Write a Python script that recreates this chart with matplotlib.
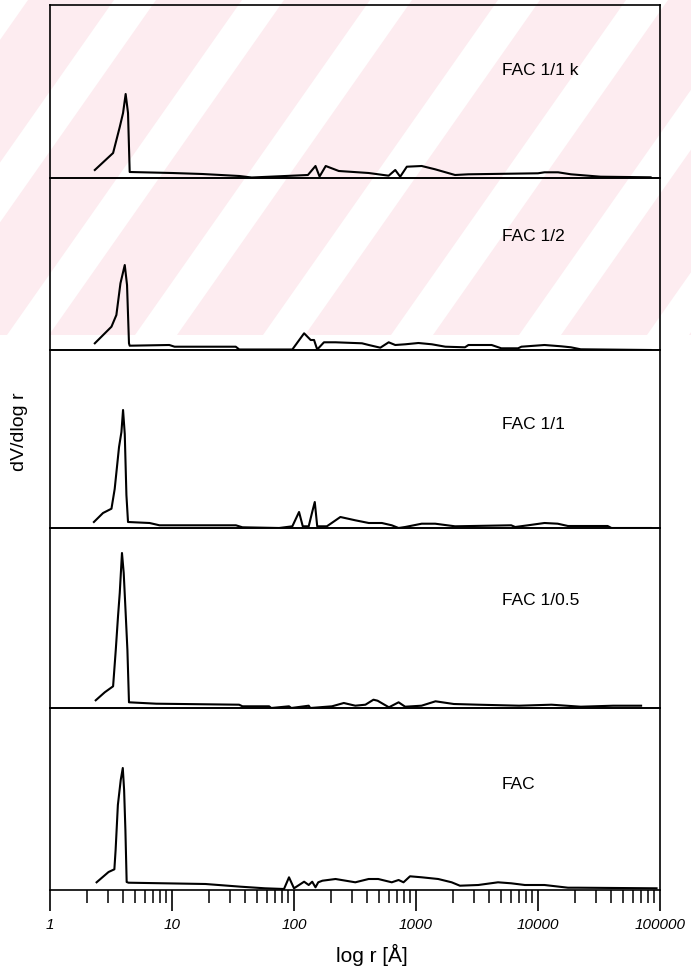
# pore size distribution panels (dV/dlog r vs r), five samples stacked
import matplotlib
matplotlib.use('Agg')
import matplotlib.pyplot as plt
from matplotlib.ticker import FixedLocator, LogLocator, NullFormatter
from matplotlib.patches import Polygon, Rectangle

plt.rcParams['font.family'] = ['Liberation Sans', 'DejaVu Sans']

# sample names, top to bottom
labels = ['FAC 1/1 k', 'FAC 1/2', 'FAC 1/1', 'FAC 1/0.5', 'FAC']

# r [A] and dV/dlog r (arbitrary units)
r_11k = [2.33, 3.29, 3.73, 3.97, 4.17, 4.36, 4.50, 10, 17.7, 35.6, 45, 130, 150, 162, 182,
         233, 409, 597, 676, 742, 841, 1114, 1435, 2090, 2690, 10000, 11300, 14600, 18600,
         32600, 83700]
v_11k = [8, 25, 51, 65, 84, 65, 6, 5, 4, 2, 0.5, 3, 12, 1.5, 12,
         7, 5, 2.3, 8, 1.3, 11.3, 12, 8.7, 3, 3.7, 4.7, 5.7, 5.7, 3.7,
         1.3, 0.7]

r_12 = [2.33, 3.19, 3.50, 3.78, 4.10, 4.28, 4.44, 4.50, 9.5, 10.5, 33.3, 35.6, 96.9, 121,
        137, 146, 155, 176, 219, 361, 410, 510, 597, 676, 815, 1047, 1350, 1740, 2520, 2690,
        4170, 5000, 6870, 7310, 11300, 15500, 18600, 22400, 83700]
v_12 = [6.7, 23.3, 35, 66.7, 85, 65, 6.7, 4.3, 5, 3.3, 3.3, 0.5, 0.5, 16.7,
        10, 10, 0.5, 7.7, 7.7, 6.7, 5, 2.3, 7.7, 5, 5.7, 7, 5.7, 3.3, 2.7, 5,
        5, 1.7, 1.7, 3.3, 5, 3.7, 2.7, 0.7, 0]

r_11 = [2.29, 2.72, 3.19, 3.39, 3.68, 3.85, 3.97, 4.10, 4.23, 4.36, 6.55, 7.9, 33.4, 37.8,
        75.5, 96.9, 110, 118, 132, 141, 148, 155, 186, 240, 318, 410, 525, 633, 720, 815,
        1114, 1435, 2090, 6030, 6500, 8270, 11300, 14500, 17600, 37200, 40000, 83700]
v_11 = [6, 15, 19.3, 39, 81, 96, 118, 94, 33, 6, 5, 2.7, 2.7, 0.7,
        0, 1.7, 16, 1.7, 1.7, 16, 26, 1.7, 1.7, 11, 7.7, 5, 5, 2.7, 0, 1,
        4.3, 4.3, 1.7, 2.7, 1, 2.7, 5, 4.3, 2, 2, 0, 0]

r_105 = [2.37, 2.81, 3.29, 3.46, 3.61, 3.73, 3.89, 4.02, 4.17, 4.31, 4.44, 7.43, 35.5, 37.8,
         62.5, 65, 91, 95, 132, 136, 205, 256, 318, 385, 448, 484, 600, 720, 815, 1110,
         1445, 2040, 3240, 7000, 12900, 22400, 41400, 70000]
v_105 = [7.7, 15.7, 21.7, 58, 91.7, 115, 155, 135, 95, 58, 5.7, 4.3, 3.3, 1.7,
         1.7, 0, 1.7, 0, 2.3, 0, 1.7, 5, 2.3, 3.3, 8.3, 7.3, 0.7, 5.7, 1.3, 2.3,
         6.7, 4, 3.3, 2.3, 3.3, 1.3, 2.3, 2.3]

r_fac = [2.41, 3.02, 3.37, 3.45, 3.6, 3.8, 3.95, 4.05, 4.15, 4.25, 4.4, 18.8, 36.6, 57.8,
         82.8, 91, 100, 121, 132, 141, 150, 158, 171, 219, 318, 409, 490, 633, 720, 790,
         893, 1114, 1520, 1960, 2290, 3240, 4700, 6030, 7800, 11300, 17600, 21100, 93700]
v_fac = [7.7, 18, 20.7, 40, 85, 110, 122, 100, 60, 8, 7.3, 6, 3.3, 1.7,
         1, 12.7, 1.7, 8.3, 5, 8.3, 2.7, 7.7, 9.3, 11, 7.7, 11, 11, 7.7, 10, 7.7,
         13.7, 12.7, 11, 7.7, 4.3, 5, 7.7, 6.7, 5, 5, 2.3, 2.3, 1.7]

xs = [r_11k, r_12, r_11, r_105, r_fac]
ys = [v_11k, v_12, v_11, v_105, v_fac]
ytop = [173, 172, 178, 180, 182]          # y range of each panel
label_y = [0.624, 0.657, 0.579, 0.60, 0.577]

major = [1, 10, 100, 1000, 10000, 100000]
major_lab = ['1', '10', '100', '1000', '10000', '100000']

W, H = 691, 973
fig = plt.figure(figsize=(W / 100, H / 100), dpi=100)

# faint pink watermark behind the top of the page
pink = '#fdecf0'
fig.patches.append(Rectangle((0, 1 - 335 / H), 1, 335 / H, transform=fig.transFigure,
                             facecolor=pink, edgecolor='none', zorder=-2))
for k in range(-3, 5):
    x0 = 135 + 128 * k
    pts = [(x0, 335), (x0 + 42, 335), (x0 + 277, 0), (x0 + 235, 0)]
    fig.patches.append(Polygon([(px / W, 1 - py / H) for px, py in pts],
                               transform=fig.transFigure, facecolor='white',
                               edgecolor='none', zorder=-1))

gs = fig.add_gridspec(5, 1, left=50 / W, right=660 / W, top=1 - 5 / H, bottom=1 - 890 / H,
                      hspace=0, height_ratios=ytop)

for i in range(5):
    ax = fig.add_subplot(gs[i])
    ax.set_zorder(1)
    ax.patch.set_alpha(0)
    ax.plot(xs[i], ys[i], color='black', lw=1.5)
    ax.set_xscale('log')
    ax.set_xlim(1, 100000)
    ax.set_ylim(0, ytop[i])
    ax.set_yticks([])
    for sp in ax.spines.values():
        sp.set_linewidth(1.2)
    ax.text(0.741, label_y[i], labels[i], transform=ax.transAxes, fontsize=12.5,
            va='center', ha='left')
    if i < 4:
        ax.tick_params(axis='x', which='both', bottom=False, labelbottom=False)
    else:
        ax.xaxis.set_major_locator(FixedLocator(major))
        ax.set_xticklabels(major_lab, fontsize=11, style='italic')
        ax.xaxis.set_minor_locator(LogLocator(base=10, subs=range(2, 10)))
        ax.xaxis.set_minor_formatter(NullFormatter())
        ax.tick_params(axis='x', which='major', direction='out', length=15, width=1.2, pad=5)
        ax.tick_params(axis='x', which='minor', direction='out', length=9, width=1.1)

fig.text(372 / W, 1 - 955 / H, 'log r [Å]', fontsize=15, ha='center', va='center')
fig.text(20 / W, 1 - 432 / H, 'dV/dlog r', fontsize=14, rotation=90, ha='center', va='center')

fig.savefig('out.png', dpi=100)
